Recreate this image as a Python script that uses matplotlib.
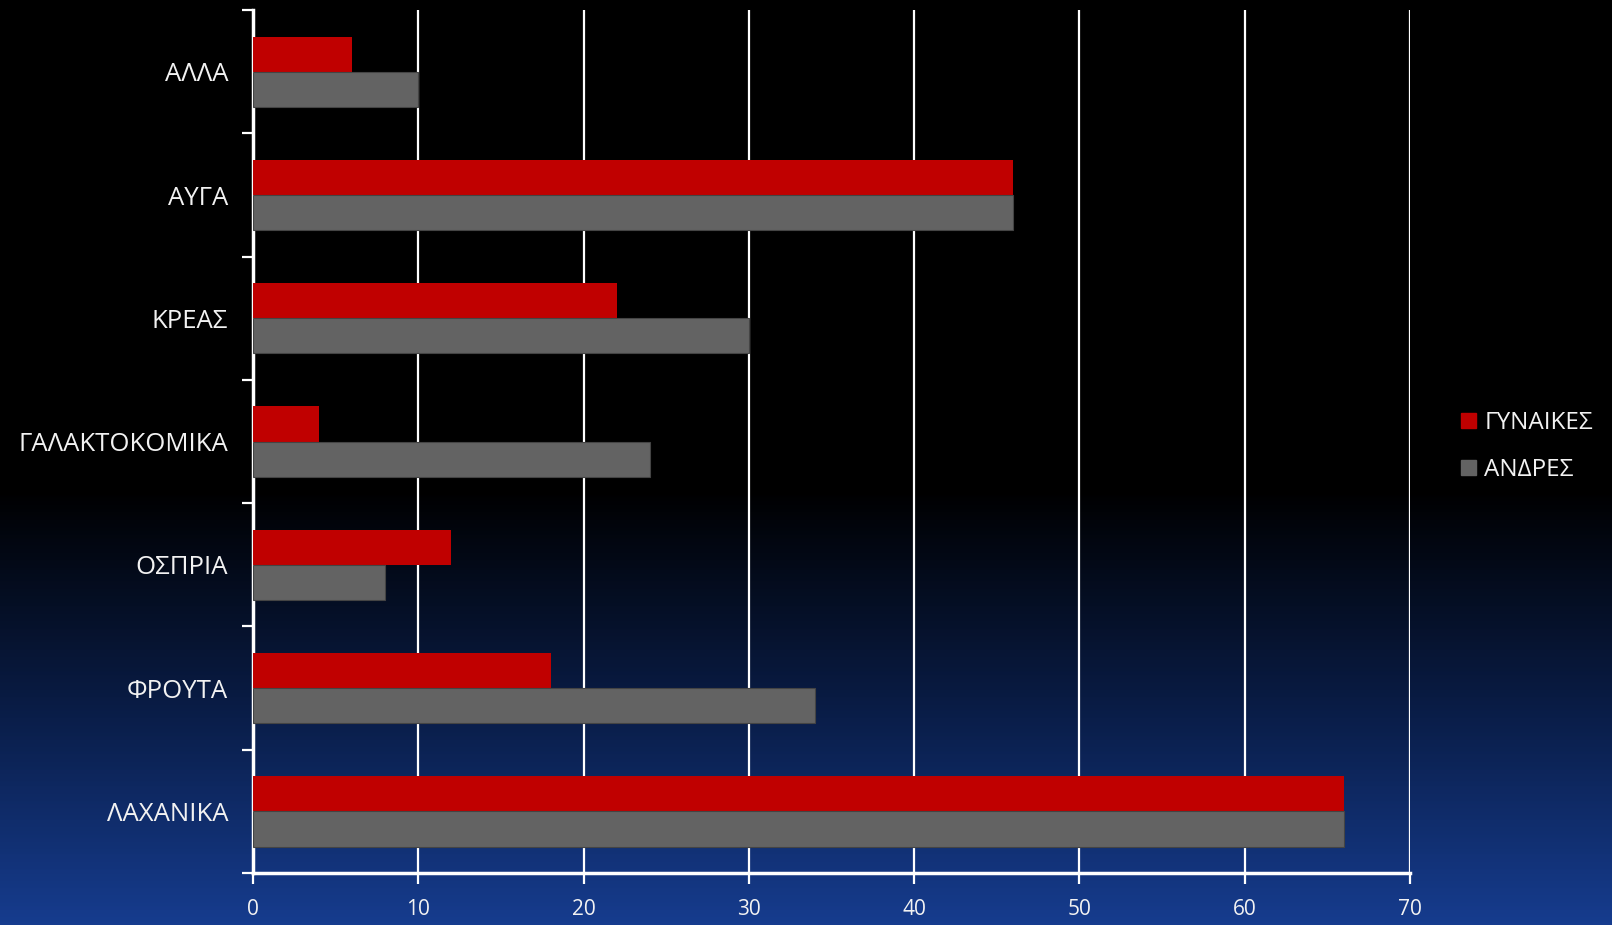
import numpy as np
import matplotlib
matplotlib.use('Agg')
import matplotlib.pyplot as plt
from matplotlib.colors import LinearSegmentedColormap
from matplotlib.patches import Patch

plt.rcParams['font.family'] = ['Open Sans', 'DejaVu Sans']

categories = ['ΛΑΧΑΝΙΚΑ', 'ΦΡΟΥΤΑ', 'ΟΣΠΡΙΑ', 'ΓΑΛΑΚΤΟΚΟΜΙΚΑ', 'ΚΡΕΑΣ', 'ΑΥΓΑ', 'ΑΛΛΑ']
gynaikes = [66, 18, 12, 4, 22, 46, 6]
andres = [66, 34, 8, 24, 30, 46, 10]
series_names = ['ΓΥΝΑΙΚΕΣ', 'ΑΝΔΡΕΣ']
x_ticks = [0, 10, 20, 30, 40, 50, 60, 70]

red = '#C00000'
gray = '#636363'
txt = '#F2F2F2'

fig = plt.figure(figsize=(16.12, 9.25), dpi=100)

# background gradient: black on top, dark blue at the bottom
bg = fig.add_axes([0, 0, 1, 1], zorder=-10)
cmap = LinearSegmentedColormap.from_list('bg', [(0, '#000000'), (0.53, '#000000'),
                                                (0.78, '#0a1e4a'), (1, '#163c8e')])
grad = np.linspace(0, 1, 500).reshape(-1, 1)
bg.imshow(grad, aspect='auto', cmap=cmap, extent=[0, 1, 0, 1], origin='upper')
bg.axis('off')

ax = fig.add_axes([0.157, 0.0562, 0.7177, 0.9328])
ax.patch.set_alpha(0)

y = np.arange(len(categories))
h = 0.285
ax.barh(y + h / 2, gynaikes, height=h, color=red, zorder=3, label=series_names[0])
ax.barh(y - h / 2, andres, height=h, color=gray, edgecolor='#444444', linewidth=0.8,
        zorder=3, label=series_names[1])

ax.set_xlim(0, 70)
ax.set_ylim(-0.5, len(categories) - 0.5)
ax.set_xticks(x_ticks)
ax.set_xticklabels([str(v) for v in x_ticks])
ax.set_yticks(y)
ax.set_yticklabels(categories)
ax.set_yticks(np.arange(-0.5, len(categories)), minor=True)

ax.grid(axis='x', color='white', linewidth=1.6, zorder=1)
ax.tick_params(axis='y', which='major', length=0, pad=18, labelsize=18.5, labelcolor=txt)
ax.tick_params(axis='y', which='minor', length=8, width=1.6, color='white', direction='out')
ax.tick_params(axis='x', length=8, width=1.6, color='white', direction='out', pad=11,
               labelsize=15, labelcolor=txt)

for s in ['top', 'right']:
    ax.spines[s].set_visible(False)
for s in ['left', 'bottom']:
    ax.spines[s].set_color('white')
    ax.spines[s].set_linewidth(2.5)

handles = [Patch(color=red), Patch(color=gray)]
fig.legend(handles, series_names, loc='center left', bbox_to_anchor=(0.893, 0.517),
           frameon=False, fontsize=17.5, labelcolor=txt, handlelength=0.6, handleheight=0.6,
           handletextpad=0.35, labelspacing=0.95)

fig.savefig('out.png', dpi=100)
